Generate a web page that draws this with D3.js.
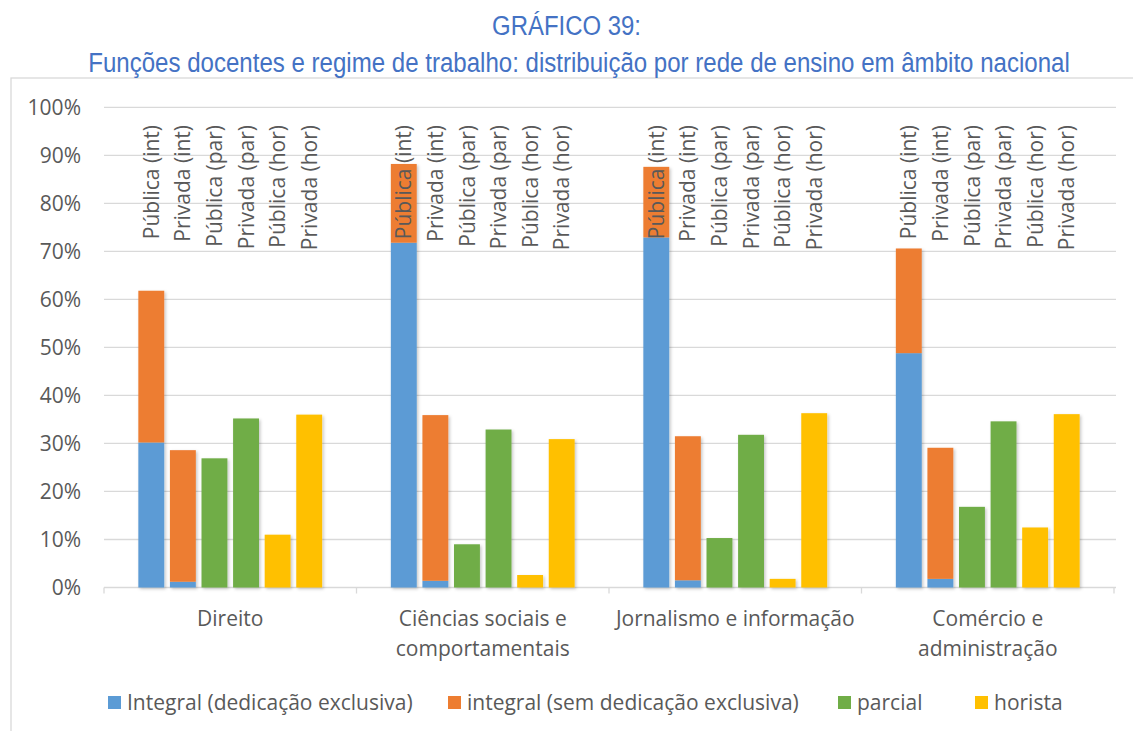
<!DOCTYPE html>
<html>
<head>
<meta charset="utf-8">
<script src="https://cdn.jsdelivr.net/npm/d3@7"></script>
<style>
  html, body { margin: 0; padding: 0; background: #fff; }
  svg { display: block; }
  text { font-family: "Open Sans", "Noto Sans", sans-serif; fill: #595959; }
  .title { font-family: "Liberation Sans Narrow", "Arial Narrow", "Liberation Sans", sans-serif; fill: #4472C4; }
</style>
</head>
<body>
<svg id="chart" width="1133" height="731"></svg>
<script>
// Área de formação (linhas do rótulo do eixo)
const categories = [
  ["Direito"],
  ["Ciências sociais e", "comportamentais"],
  ["Jornalismo e informação"],
  ["Comércio e", "administração"]
];
// Colunas dentro de cada área
const barLabels = ["Pública (int)", "Privada (int)", "Pública (par)", "Privada (par)", "Pública (hor)", "Privada (hor)"];

// Percentuais por coluna (ordem de barLabels), uma linha por área
const integralDedicacao = [
  [30.2, 1.2, 0, 0, 0, 0],
  [71.8, 1.4, 0, 0, 0, 0],
  [72.9, 1.5, 0, 0, 0, 0],
  [48.8, 1.8, 0, 0, 0, 0]
];
const integralSemDedicacao = [
  [31.6, 27.4, 0, 0, 0, 0],
  [16.4, 34.5, 0, 0, 0, 0],
  [14.7, 30.0, 0, 0, 0, 0],
  [21.8, 27.3, 0, 0, 0, 0]
];
const parcial = [
  [0, 0, 26.9, 35.2, 0, 0],
  [0, 0, 9.0, 32.9, 0, 0],
  [0, 0, 10.3, 31.8, 0, 0],
  [0, 0, 16.8, 34.6, 0, 0]
];
const horista = [
  [0, 0, 0, 0, 11.0, 36.0],
  [0, 0, 0, 0, 2.6, 30.9],
  [0, 0, 0, 0, 1.8, 36.3],
  [0, 0, 0, 0, 12.5, 36.1]
];
const seriesNames = ["Integral (dedicação exclusiva)", "integral (sem dedicação exclusiva)", "parcial", "horista"];
const seriesKeys = ["ide", "isde", "par", "hor"];
const seriesColors = ["#5B9BD5", "#ED7D31", "#70AD47", "#FFC000"];
const yTicks = [0, 10, 20, 30, 40, 50, 60, 70, 80, 90, 100];
const titleLines = ["GRÁFICO 39:", "Funções docentes e regime de trabalho: distribuição por rede de ensino em âmbito nacional"];

const svg = d3.select("#chart");
const FS = 21;

// Moldura do gráfico
svg.append("rect")
  .attr("x", 11).attr("y", 78)
  .attr("width", 1200).attr("height", 700)
  .attr("fill", "none").attr("stroke", "#d9d9d9").attr("stroke-width", 1.3);

// Título em estilo condensado: a largura é reduzida horizontalmente
const titleSpecs = [
  { cx: 566.5, base: 35, width: 149 },
  { cx: 579, base: 72, width: 982 }
];
titleLines.forEach((line, i) => {
  const spec = titleSpecs[i];
  const t = svg.append("text").attr("class", "title")
    .attr("x", 0).attr("y", 0)
    .attr("text-anchor", "middle")
    .attr("font-size", 28)
    .text(line);
  const natural = t.node().getComputedTextLength();
  const k = spec.width / natural;
  t.attr("transform", `translate(${spec.cx},${spec.base}) scale(${k},1)`);
});

// Escalas
const catKeys = categories.map(c => c.join(" "));
const x0 = d3.scaleBand().domain(catKeys).range([104, 1114]);
const x1 = d3.scaleBand().domain(barLabels).range([31.5, 221]).paddingInner(0.18).paddingOuter(0.09);
const y = d3.scaleLinear().domain([0, 100]).range([587.5, 107.3]);

// Linhas de grade e rótulos do eixo Y
const grid = svg.append("g");
grid.selectAll("line").data(yTicks).join("line")
  .attr("x1", 104).attr("x2", 1116)
  .attr("y1", d => y(d)).attr("y2", d => y(d))
  .attr("stroke", "#d9d9d9").attr("stroke-width", 1.3);
grid.selectAll("text").data(yTicks).join("text")
  .attr("x", 81).attr("y", d => y(d)).attr("dy", "0.36em")
  .attr("text-anchor", "end").attr("font-size", FS)
  .text(d => d + "%");

// Marcas do eixo X
const xTickPos = catKeys.map(k => x0(k)).concat([x0.range()[1]]);
svg.append("g").selectAll("line").data(xTickPos).join("line")
  .attr("x1", d => d).attr("x2", d => d)
  .attr("y1", y(0)).attr("y2", y(0) + 6)
  .attr("stroke", "#d9d9d9").attr("stroke-width", 1.3);

// Dados por coluna para o empilhamento
const rows = [];
catKeys.forEach((ck, ci) => {
  barLabels.forEach((bl, bi) => {
    rows.push({
      cat: ck, bar: bl,
      ide: integralDedicacao[ci][bi],
      isde: integralSemDedicacao[ci][bi],
      par: parcial[ci][bi],
      hor: horista[ci][bi]
    });
  });
});
const stacked = d3.stack().keys(seriesKeys)(rows);

// Sombra suave das colunas
const defs = svg.append("defs");
const f = defs.append("filter").attr("id", "shadow")
  .attr("x", "-20%").attr("y", "-5%").attr("width", "160%").attr("height", "115%");
f.append("feDropShadow").attr("dx", 1.5).attr("dy", 1.5).attr("stdDeviation", 1.5)
  .attr("flood-color", "#000").attr("flood-opacity", 0.22);

const bars = svg.append("g").attr("filter", "url(#shadow)");
stacked.forEach((layer, si) => {
  bars.append("g").attr("fill", seriesColors[si])
    .selectAll("rect").data(layer.filter(d => d[1] - d[0] > 0)).join("rect")
    .attr("x", d => x0(d.data.cat) + x1(d.data.bar))
    .attr("width", x1.bandwidth())
    .attr("y", d => y(d[1]))
    .attr("height", d => y(d[0]) - y(d[1]));
});

// Rótulos verticais das colunas
const lbl = svg.append("g");
catKeys.forEach(ck => {
  barLabels.forEach(bl => {
    const cx = x0(ck) + x1(bl) + x1.bandwidth() / 2;
    lbl.append("text")
      .attr("transform", `translate(${cx},125) rotate(-90)`)
      .attr("text-anchor", "end").attr("dy", "0.36em")
      .attr("font-size", FS)
      .text(bl);
  });
});

// Rótulos das áreas
const catG = svg.append("g");
categories.forEach((lines, ci) => {
  const cx = x0(catKeys[ci]) + x0.bandwidth() / 2;
  const t = catG.append("text")
    .attr("x", cx).attr("y", 626).attr("text-anchor", "middle").attr("font-size", FS);
  lines.forEach((ln, li) => {
    t.append("tspan").attr("x", cx).attr("dy", li === 0 ? 0 : 30).text(ln);
  });
});

// Legenda
const legendX = [108, 448, 838, 975];
const leg = svg.append("g");
seriesNames.forEach((name, i) => {
  leg.append("rect").attr("x", legendX[i]).attr("y", 696)
    .attr("width", 13).attr("height", 13).attr("fill", seriesColors[i]);
  leg.append("text").attr("x", legendX[i] + 19).attr("y", 710)
    .attr("font-size", FS).text(name);
});
</script>
</body>
</html>
